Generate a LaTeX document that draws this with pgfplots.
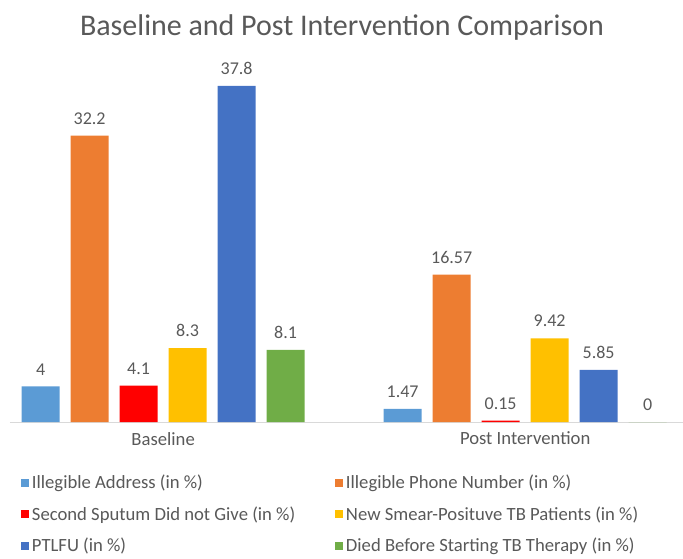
\documentclass[border=0pt]{standalone}
\usepackage{fontspec}
\setmainfont{Carlito}
\usepackage{pgfplots}
\pgfplotsset{compat=1.18}
\definecolor{c1}{HTML}{5B9BD5}
\definecolor{c2}{HTML}{ED7D31}
\definecolor{c3}{HTML}{FF0000}
\definecolor{c4}{HTML}{FFC000}
\definecolor{c5}{HTML}{4472C4}
\definecolor{c6}{HTML}{70AD47}
\definecolor{txt}{HTML}{595959}
\definecolor{axl}{HTML}{D9D9D9}
\begin{document}
\begin{tikzpicture}[x=0.75pt,y=0.75pt]
\path[use as bounding box] (0,0) rectangle (683,558);
\node[text=txt,font=\fontsize{22.5}{26}\selectfont] at (342,530) {Baseline and Post Intervention Comparison};
\begin{axis}[
  at={(7.5pt,102pt)}, anchor=south west,
  scale only axis, width=504.75pt, height=266.7pt,
  xmin=-0.423, xmax=1.436, ymin=0, ymax=40,
  axis x line=bottom, axis y line=none,
  x axis line style={draw=axl,-},
  xtick={0,1}, xticklabels={Baseline,Post Intervention},
  major tick length=0pt,
  xticklabel style={text=txt,font=\fontsize{14}{16}\selectfont,yshift=-4pt},
  ybar=8.25pt, bar width=28.5pt,
  every axis plot/.append style={draw=none},
  nodes near coords,
  nodes near coords style={text=txt,font=\fontsize{13.5}{16}\selectfont,/pgf/number format/assume math mode=true,yshift=5pt},
  legend columns=2,
  legend style={draw=none, at={(0.0104,-0.133)}, anchor=north west,
    font=\fontsize{14}{16}\selectfont, text=txt, row sep=8pt,
    /tikz/every even column/.append style={column sep=28pt}},
  legend cell align=left,
  legend image code/.code={\fill[#1] (0pt,-3pt) rectangle (6pt,3pt);},
]
\addplot[fill=c1] coordinates {(0,4) (1,1.47)};
\addplot[fill=c2] coordinates {(0,32.2) (1,16.57)};
\addplot[fill=c3] coordinates {(0,4.1) (1,0.15)};
\addplot[fill=c4] coordinates {(0,8.3) (1,9.42)};
\addplot[fill=c5] coordinates {(0,37.8) (1,5.85)};
\addplot[fill=c6] coordinates {(0,8.1) (1,0)};
\legend{Illegible Address (in \%),Illegible Phone Number (in \%),Second Sputum Did not Give (in \%),New Smear-Posituve TB Patients (in \%),PTLFU (in \%),Died Before Starting TB Therapy (in \%)}
\end{axis}
\end{tikzpicture}
\end{document}
